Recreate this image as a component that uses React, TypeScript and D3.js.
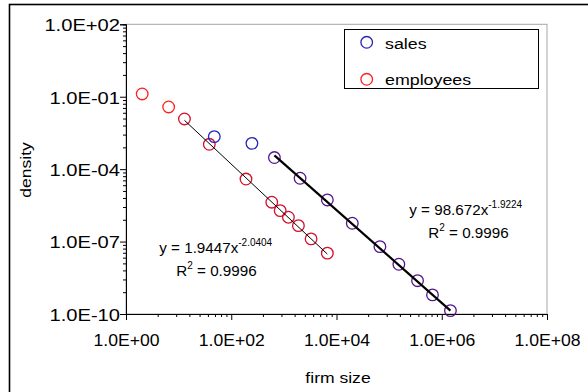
import React, { useEffect, useRef } from 'react';
import * as d3 from 'd3';

// firm size vs density
const salesSize = [47.6, 247, 661, 2032, 6699, 19953, 66834, 153109, 346737, 666807, 1462177];
const salesDensity = [2.22e-3, 1.17e-3, 3.02e-4, 4.2e-5, 5.31e-6, 5.75e-7, 6.17e-8, 1.15e-8, 2.4e-9, 6.17e-10, 1.38e-10];
const employeesSize = [2.03, 6.46, 12.9, 38.3, 190.5, 589, 851, 1219, 1888, 3289, 6699];
const employeesDensity = [0.13, 0.0377, 0.012, 1.07e-3, 3.89e-5, 4.27e-6, 1.91e-6, 1.02e-6, 4.57e-7, 1.29e-7, 3.31e-8];
// first point used by the power-law trendlines
const fitStart = 2;
const salesFit = { a: 98.672, b: -1.9224, r2: '0.9996' };
const employeesFit = { a: 1.9447, b: -2.0404, r2: '0.9996' };

const xTicks = [1, 1e2, 1e4, 1e6, 1e8];
const yTicks = [1e-10, 1e-7, 1e-4, 1e-1, 1e2];

const FONT = "'Liberation Sans', Arial, sans-serif";

const fmt = (v: number) => {
  const e = Math.round(Math.log10(v));
  return `1.0E${e < 0 ? '-' : '+'}${String(Math.abs(e)).padStart(2, '0')}`;
};

const x = d3.scaleLog().domain([1, 1e8]).range([126, 547]);
const y = d3.scaleLog().domain([1e-10, 1e2]).range([314, 24.3]);

// Excel spreads 2..9 minor ticks over a multi-decade major unit
const minors = (majors: number[], span: number) =>
  majors.slice(0, -1).flatMap((lo) => d3.range(2, 10).map((k) => lo * Math.pow(k, span)));

const Stretched = ({ tx, ty, children, anchor = 'start', size = 15, sx = 1.17, rotate = 0 }: any) => (
  <g transform={`translate(${tx},${ty}) rotate(${rotate}) scale(${sx},1)`}>
    <text textAnchor={anchor} fontSize={size} fontFamily={FONT} fill="#000">
      {children}
    </text>
  </g>
);

const Equation = ({ tx, ty, fit }: any) => (
  <g fontFamily={FONT} fill="#000">
    <text x={tx} y={ty} fontSize={15.2}>
      {`y = ${fit.a}x`}
      <tspan fontSize={10} dy={-7}>{String(fit.b)}</tspan>
    </text>
    <text x={tx + (fit.a > 10 ? 19 : 17)} y={ty + 23} fontSize={15.2}>
      R<tspan fontSize={10} dy={-7}>2</tspan>
      <tspan dy={7}>{` = ${fit.r2}`}</tspan>
    </text>
  </g>
);

const App = () => {
  const xRef = useRef<SVGGElement>(null);
  const yRef = useRef<SVGGElement>(null);

  useEffect(() => {
    const gx = d3.select(xRef.current);
    gx.selectAll('*').remove();
    gx.append('g').call(d3.axisBottom(x).tickValues(minors(xTicks, 2)).tickSize(3).tickFormat(() => ''));
    gx.append('g').call(d3.axisBottom(x).tickValues(xTicks).tickSize(6).tickPadding(15).tickFormat((d: any) => fmt(d)));
    gx.selectAll('text')
      .attr('font-size', 16)
      .attr('font-family', FONT)
      .attr('fill', '#000')
      .attr('transform', 'scale(1.1,1)');

    const gy = d3.select(yRef.current);
    gy.selectAll('*').remove();
    gy.append('g').call(d3.axisLeft(y).tickValues(minors(yTicks, 3)).tickSize(3).tickFormat(() => ''));
    gy.append('g').call(d3.axisLeft(y).tickValues(yTicks).tickSize(6).tickPadding(0).tickFormat((d: any) => fmt(d)));
    gy.selectAll('text')
      .attr('font-size', 16)
      .attr('font-family', FONT)
      .attr('fill', '#000')
      .attr('dy', '0.4em')
      .attr('x', -6 / 1.26)
      .attr('transform', 'scale(1.26,1)');

    d3.selectAll('.axis path, .axis line').attr('stroke', '#000').attr('stroke-width', 1);
  }, []);

  const trend = (fit: any, xs: number[]) => {
    const pts = xs.slice(fitStart);
    const x0 = d3.min(pts) as number;
    const x1 = d3.max(pts) as number;
    return d3.line()([
      [x(x0), y(fit.a * Math.pow(x0, fit.b))],
      [x(x1), y(fit.a * Math.pow(x1, fit.b))],
    ]) as string;
  };

  return (
    <svg width={588} height={392} style={{ position: 'absolute', left: 0, top: 0, background: '#fff' }}>
      <rect x={9.5} y={4.5} width={620} height={420} fill="#fff" stroke="#000" strokeWidth={1.6} />
      <rect x={126} y={24.3} width={421} height={289.7} fill="none" stroke="#a6a6a6" strokeWidth={1} />

      <g className="axis" ref={xRef} transform="translate(0,314)" />
      <g className="axis" ref={yRef} transform="translate(126,0)" />

      {employeesSize.map((s, i) => (
        <circle key={`e${i}`} cx={x(s)} cy={y(employeesDensity[i])} r={5.8} fill="none"
          stroke={i < fitStart ? '#ff1f1f' : '#d4102c'} strokeWidth={1.3} />
      ))}
      {salesSize.map((s, i) => (
        <circle key={`s${i}`} cx={x(s)} cy={y(salesDensity[i])} r={5.8} fill="none"
          stroke={i < fitStart ? '#2626b8' : '#55168c'} strokeWidth={1.3} />
      ))}
      <path d={trend(employeesFit, employeesSize)} stroke="#000" strokeWidth={1} fill="none" />
      <path d={trend(salesFit, salesSize)} stroke="#000" strokeWidth={2.2} fill="none" />

      <Equation tx={159.3} ty={253} fit={employeesFit} />
      <Equation tx={409.3} ty={215} fit={salesFit} />

      <rect x={344.5} y={29.5} width={194} height={59} fill="none" stroke="#000" strokeWidth={1} />
      <circle cx={366.7} cy={42.3} r={5.8} fill="none" stroke="#2626b8" strokeWidth={1.3} />
      <circle cx={366.7} cy={79.3} r={5.8} fill="none" stroke="#ff1f1f" strokeWidth={1.3} />
      <Stretched tx={385} ty={48.5} size={15.5} sx={1.15}>sales</Stretched>
      <Stretched tx={385} ty={85} size={15.5} sx={1.15}>employees</Stretched>

      <Stretched tx={338} ty={383} anchor="middle">firm size</Stretched>
      <Stretched tx={31} ty={170} anchor="middle" rotate={-90}>density</Stretched>
    </svg>
  );
};

export default App;
